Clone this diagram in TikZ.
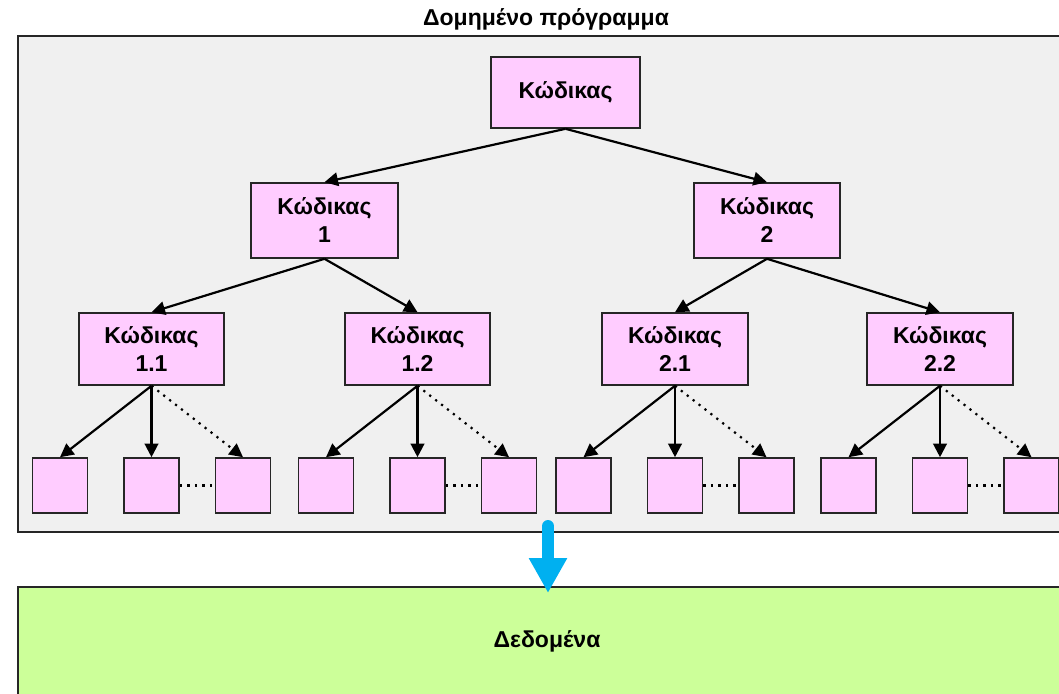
\documentclass[tikz,border=0pt]{standalone}
\usepackage{fontspec}
\setmainfont{Liberation Sans}
\usetikzlibrary{arrows.meta}
\definecolor{pinkfill}{HTML}{FFCCFF}
\definecolor{greyfill}{HTML}{F0F0F0}
\definecolor{greenfill}{HTML}{CCFF99}
\definecolor{bluearr}{HTML}{00B0F0}
\definecolor{edge}{HTML}{262626}
\tikzset{
  lbl/.style={font=\fontsize{23}{28}\selectfont\bfseries, align=center},
  codebox/.style={lbl, draw=edge, line width=1.6pt, fill=pinkfill, inner sep=0pt},
  leafbox/.style={draw=edge, line width=1.6pt, fill=pinkfill, minimum width=55pt, minimum height=55pt, inner sep=0pt},
  conn/.style={line width=2.2pt, -{Triangle[length=13.5pt,width=13.5pt]}},
  dotconn/.style={line width=2.2pt, dash pattern=on 2.2pt off 5.3pt, -{Triangle[length=13.5pt,width=13.5pt]}},
  dotlink/.style={line width=2.2pt, dash pattern=on 2.2pt off 5.3pt},
  panel/.style={draw=edge, line width=1.6pt, inner sep=0pt},
}
\begin{document}
\begin{tikzpicture}[x=1pt,y=-1pt]
\clip (0,0) rectangle (1059,693);
\fill[white] (0,0) rectangle (1059,693);
% panels
\node[panel, fill=greyfill, minimum width=1060pt, minimum height=496pt] (prog) at (548,284) {};
\node[lbl] (title) at (546,19) {Δομημένο πρόγραμμα};
\node[panel, fill=greenfill, minimum width=1060pt, minimum height=108pt] (data) at (548,641) {};
\node[lbl] (datalbl) at (547,641) {Δεδομένα};
% code nodes
\node[codebox, minimum width=149pt, minimum height=71pt] (top) at (565.5,92.5) {Κώδικας};
\node[codebox, minimum width=147pt, minimum height=75pt] (c1) at (324.5,220.5) {Κώδικας\\1};
\node[codebox, minimum width=146pt, minimum height=75pt] (c2) at (767,220.5) {Κώδικας\\2};
\node[codebox, minimum width=145pt, minimum height=72pt] (c11) at (151.5,349) {Κώδικας\\1.1};
\node[codebox, minimum width=145pt, minimum height=72pt] (c12) at (417.5,349) {Κώδικας\\1.2};
\node[codebox, minimum width=146pt, minimum height=72pt] (c21) at (675,349) {Κώδικας\\2.1};
\node[codebox, minimum width=146pt, minimum height=72pt] (c22) at (940,349) {Κώδικας\\2.2};
% leaves
\foreach \p/\x in {c11/151.5, c12/417.5, c21/675, c22/940}{
  \node[leafbox] (\p a) at (\x-91.5,485.5) {};
  \node[leafbox] (\p b) at (\x,485.5) {};
  \node[leafbox] (\p c) at (\x+91.5,485.5) {};
  \draw[conn] (\p.south) -- (\p a.north);
  \draw[conn] (\p.south) -- (\p b.north);
  \draw[dotconn] (\p.south) -- (\p c.north);
  \draw[dotlink] (\p b.east) -- (\p c.west);
}
% upper connectors
\draw[conn] (top.south) -- (c1.north);
\draw[conn] (top.south) -- (c2.north);
\draw[conn] (c1.south) -- (c11.north);
\draw[conn] (c1.south) -- (c12.north);
\draw[conn] (c2.south) -- (c21.north);
\draw[conn] (c2.south) -- (c22.north);
% blue arrow
\coordinate (b1) at (548,526);
\coordinate (b2) at (548,593);
\draw[bluearr, line width=12pt, line cap=round, -{Triangle[length=35pt,width=36pt]}] (b1) -- (b2);
\end{tikzpicture}
\end{document}
